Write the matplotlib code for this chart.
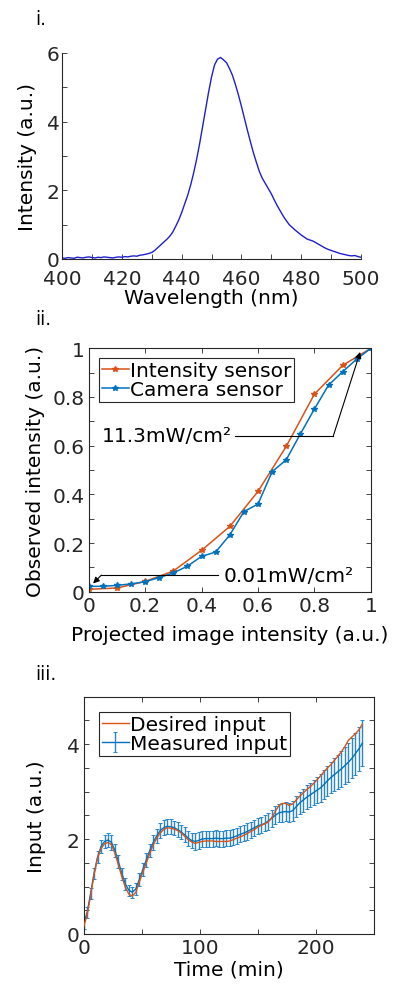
import numpy as np
import matplotlib.pyplot as plt

plt.rcParams['font.family'] = ['DejaVu Sans']
plt.rcParams['axes.edgecolor'] = '#262626'
plt.rcParams['xtick.color'] = '#262626'
plt.rcParams['ytick.color'] = '#262626'
plt.rcParams['xtick.direction'] = 'in'
plt.rcParams['ytick.direction'] = 'in'
plt.rcParams['axes.linewidth'] = 0.8

# --- panel i: emission spectrum ---
wavelength = np.arange(400, 501, 1)
spectrum = [0.03, 0.02, 0.04, 0.03, 0.02, 0.05, 0.04, 0.03, 0.05, 0.06,
            0.04, 0.03, 0.05, 0.04, 0.06, 0.05, 0.04, 0.03, 0.05, 0.06,
            0.05, 0.07, 0.06, 0.08, 0.09, 0.08, 0.11, 0.12, 0.14, 0.16,
            0.19, 0.25, 0.33, 0.41, 0.49, 0.57, 0.66, 0.78, 0.95, 1.13,
            1.35, 1.6, 1.85, 2.15, 2.5, 2.9, 3.35, 3.85, 4.35, 4.85,
            5.3, 5.65, 5.82, 5.87, 5.8, 5.72, 5.55, 5.35, 5.08, 4.78,
            4.45, 4.1, 3.75, 3.42, 3.1, 2.82, 2.55, 2.35, 2.2, 2.05,
            1.9, 1.72, 1.55, 1.4, 1.25, 1.12, 1.0, 0.92, 0.84, 0.77,
            0.7, 0.64, 0.58, 0.55, 0.52, 0.47, 0.42, 0.37, 0.32, 0.28,
            0.25, 0.22, 0.19, 0.16, 0.14, 0.12, 0.1, 0.09, 0.1, 0.07, 0.05]

# --- panel ii: calibration ---
x_int = np.arange(0, 1.01, 0.1)
int_sensor = [0.01, 0.015, 0.042, 0.085, 0.17, 0.268, 0.412, 0.597, 0.812, 0.93, 1.0]
x_cam = np.arange(0, 1.001, 0.05)
cam_sensor = [0.022, 0.022, 0.026, 0.032, 0.041, 0.058, 0.077, 0.105, 0.145, 0.163,
              0.233, 0.329, 0.36, 0.493, 0.542, 0.648, 0.751, 0.849, 0.904, 0.956, 1.0]

# --- panel iii: input tracking ---
time_min = np.arange(0, 241, 3)
desired = [0.15, 0.4, 0.8, 1.25, 1.6, 1.8, 1.9, 1.93, 1.88, 1.7,
           1.45, 1.2, 0.98, 0.84, 0.8, 0.88, 1.1, 1.3, 1.5, 1.7,
           1.88, 2.02, 2.13, 2.2, 2.24, 2.23, 2.21, 2.18, 2.13, 2.06,
           1.99, 1.94, 1.91, 1.93, 1.95, 1.96, 1.96, 1.96, 1.95, 1.95,
           1.95, 1.95, 1.96, 1.99, 2.02, 2.05, 2.08, 2.12, 2.16, 2.2,
           2.25, 2.29, 2.32, 2.36, 2.45, 2.58, 2.7, 2.75, 2.75, 2.71,
           2.74, 2.82, 2.9, 2.97, 3.04, 3.1, 3.17, 3.25, 3.33, 3.42,
           3.5, 3.57, 3.66, 3.75, 3.84, 3.95, 4.08, 4.15, 4.22, 4.3, 4.42]
measured = [0.22, 0.45, 0.85, 1.28, 1.62, 1.84, 1.95, 1.98, 1.93, 1.76,
            1.52, 1.27, 1.05, 0.92, 0.88, 0.95, 1.15, 1.36, 1.56, 1.76,
            1.93, 2.07, 2.18, 2.24, 2.27, 2.26, 2.24, 2.2, 2.15, 2.09,
            2.02, 1.97, 1.95, 1.97, 2.0, 2.01, 2.01, 2.01, 2.02, 2.01,
            2.01, 2.02, 2.02, 2.04, 2.07, 2.1, 2.13, 2.16, 2.2, 2.24,
            2.28, 2.3, 2.33, 2.38, 2.44, 2.5, 2.55, 2.57, 2.58, 2.57,
            2.6, 2.68, 2.76, 2.82, 2.88, 2.93, 2.98, 3.03, 3.08, 3.15,
            3.23, 3.3, 3.36, 3.42, 3.48, 3.55, 3.62, 3.7, 3.8, 3.9, 4.02]
meas_err = [0.12, 0.12, 0.12, 0.12, 0.13, 0.13, 0.14, 0.15, 0.15, 0.14,
            0.14, 0.13, 0.13, 0.12, 0.12, 0.12, 0.13, 0.13, 0.14, 0.14,
            0.15, 0.15, 0.16, 0.16, 0.16, 0.16, 0.15, 0.15, 0.15, 0.16,
            0.16, 0.16, 0.17, 0.17, 0.17, 0.17, 0.17, 0.17, 0.17, 0.17,
            0.17, 0.17, 0.17, 0.17, 0.17, 0.17, 0.17, 0.17, 0.17, 0.17,
            0.17, 0.17, 0.17, 0.18, 0.18, 0.19, 0.19, 0.2, 0.2, 0.2,
            0.21, 0.22, 0.23, 0.24, 0.25, 0.26, 0.27, 0.28, 0.3, 0.31,
            0.32, 0.33, 0.35, 0.36, 0.38, 0.39, 0.41, 0.42, 0.44, 0.46, 0.48]

blue = '#0072BD'
orange = '#D95319'
fs = 14.5

fig = plt.figure(figsize=(4.01, 9.87), dpi=100)

# panel i
ax1 = fig.add_axes([0.155, 0.7366, 0.745, 0.2087])
ax1.plot(wavelength, spectrum, color='#1f1fd0', lw=1.0)
ax1.set_xlim(400, 500)
ax1.set_ylim(0, 6)
ax1.spines['top'].set_visible(False)
ax1.spines['right'].set_visible(False)
ax1.set_xticks(np.arange(400, 501, 10))
ax1.set_xticklabels([str(v) if v % 20 == 0 else '' for v in range(400, 501, 10)])
ax1.set_yticks(np.arange(0, 7, 1))
ax1.set_yticklabels([str(v) if v % 2 == 0 else '' for v in range(0, 7)])
ax1.tick_params(labelsize=fs, length=3.5, width=0.6)
ax1.tick_params(axis='x', pad=7.5)
ax1.tick_params(axis='y', pad=2)
ax1.set_xlabel('Wavelength (nm)', fontsize=fs, labelpad=0)
ax1.set_ylabel('Intensity (a.u.)', fontsize=fs, labelpad=7)
fig.text(0.087, 0.9747, 'i.', fontsize=13.5)

# panel ii
ax2 = fig.add_axes([0.221, 0.3995, 0.704, 0.2466])
ax2.plot(x_int, int_sensor, color=orange, marker='*', ms=4, lw=1.1, label='Intensity sensor')
ax2.plot(x_cam, cam_sensor, color=blue, marker='*', ms=4, lw=1.1, label='Camera sensor')
ax2.set_xlim(0, 1)
ax2.set_ylim(0, 1)
ax2.set_xticks(np.arange(0, 1.01, 0.2))
ax2.set_xticklabels(['0', '0.2', '0.4', '0.6', '0.8', '1'])
ax2.set_yticks(np.arange(0, 1.01, 0.1))
ax2.set_yticklabels(['0', '', '0.2', '', '0.4', '', '0.6', '', '0.8', '', '1'])
ax2.tick_params(labelsize=fs, length=3.5, width=0.6, top=True, right=True, pad=3)
ax2.set_xlabel('Projected image intensity (a.u.)', fontsize=fs, labelpad=7)
ax2.set_ylabel('Observed intensity (a.u.)', fontsize=fs, labelpad=5)
leg2 = ax2.legend(loc='upper left', fontsize=fs, handlelength=1.35, handletextpad=0.05,
                  borderpad=0.15, labelspacing=0.0, borderaxespad=0.5,
                  fancybox=False, edgecolor='#262626', framealpha=1)
leg2.get_frame().set_linewidth(0.8)

# annotations
ax2.text(0.045, 0.64, '11.3mW/cm²', fontsize=fs, ha='left', va='center')
ax2.plot([0.52, 0.867], [0.641, 0.641], color='k', lw=0.8)
ax2.annotate('', xy=(0.962, 0.985), xytext=(0.867, 0.641),
             arrowprops=dict(arrowstyle='-|>', color='k', lw=0.8, mutation_scale=9,
                             shrinkA=0, shrinkB=0))
ax2.text(0.478, 0.068, '0.01mW/cm²', fontsize=fs, ha='left', va='center')
ax2.plot([0.46, 0.045], [0.068, 0.068], color='k', lw=0.8)
ax2.annotate('', xy=(0.016, 0.034), xytext=(0.045, 0.068),
             arrowprops=dict(arrowstyle='-|>', color='k', lw=0.8, mutation_scale=9,
                             shrinkA=0, shrinkB=0))
fig.text(0.087, 0.6707, 'ii.', fontsize=13.5)

# panel iii
ax3 = fig.add_axes([0.2085, 0.0527, 0.724, 0.2404])
ax3.plot(time_min, desired, color=orange, lw=1.0, label='Desired input', zorder=3)
ax3.errorbar(time_min, measured, yerr=meas_err, color=blue, lw=1.0, elinewidth=1.0,
             capsize=1.5, capthick=0.7, ecolor='#2b86c8', label='Measured input', zorder=2)
ax3.set_xlim(0, 250)
ax3.set_ylim(0, 5)
ax3.set_xticks(np.arange(0, 251, 50))
ax3.set_xticklabels(['0', '', '100', '', '200', ''])
ax3.set_yticks(np.arange(0, 5.01, 0.5))
ax3.set_yticklabels(['0', '', '', '', '2', '', '', '', '4', '', ''])
ax3.tick_params(labelsize=fs, length=3.5, width=0.6, top=True, right=True, pad=3)
ax3.set_xlabel('Time (min)', fontsize=fs, labelpad=2)
ax3.set_ylabel('Input (a.u.)', fontsize=fs, labelpad=15)
leg3 = ax3.legend(loc='upper left', fontsize=fs, handlelength=1.35, handletextpad=0.05,
                  borderpad=0.15, labelspacing=0.0, borderaxespad=0.75,
                  fancybox=False, edgecolor='#262626', framealpha=1)
leg3.get_frame().set_linewidth(0.8)
fig.text(0.087, 0.311, 'iii.', fontsize=13.5)

fig.savefig('out.png', dpi=100)
